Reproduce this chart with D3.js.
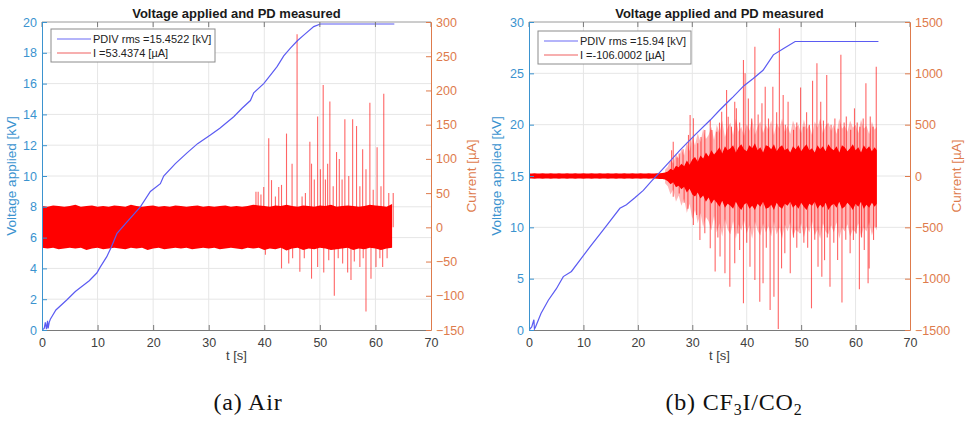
<!DOCTYPE html>
<html>
<head>
<meta charset="utf-8">
<script src="https://cdn.jsdelivr.net/npm/d3@7"></script>
<style>
  html, body { margin: 0; padding: 0; background: #fff; }
  svg { display: block; }
</style>
</head>
<body>
<svg id="chart" width="969" height="421"></svg>
<script>
// ---------- (a) Air ----------
const airVoltage = [
  [0,0],[0.4,0.1],[0.6,0.5],[0.8,0.05],[1.0,0.6],[1.1,0.1],[1.3,0.5],[1.5,0.7],[2.5,1.3],[4.45,1.95],
  [6,2.5],[7.45,2.9],[8.5,3.2],[9.86,3.7],[10.5,4.1],[11.66,4.76],[12.5,5.4],[13.5,6.28],[15.5,7.1],
  [17.7,8.0],[19.5,9.0],[21.3,9.5],[21.9,10.0],[24,10.8],[26.1,11.5],[28,12.1],[30.3,12.66],[32,13.1],
  [34.5,13.85],[36,14.4],[37.5,14.9],[38.1,15.4],[39.9,16.0],[41,16.5],[42.3,17.1],[43.5,17.8],
  [44.7,18.3],[46,18.8],[47.1,19.15],[48.9,19.7],[50.1,19.87],[63.4,19.87]
];
// dense noise band of the current, upper / lower edge each second (µA)
const airBandHi = [31,30,32,31,30,31,33,30,31,32,30,31,30,32,31,30,33,31,30,31,32,30,31,30,32,31,
  30,31,32,30,31,30,31,32,30,31,30,31,33,32,31,30,32,31,33,31,30,32,31,30,32,31,33,30,31,32,31,30,31,33,32,31,30,34];
const airBandLo = [-30,-31,-30,-32,-31,-30,-31,-30,-33,-31,-30,-32,-31,-30,-31,-32,-30,-31,-30,-33,-31,-30,
  -32,-31,-30,-31,-30,-32,-31,-30,-31,-30,-32,-31,-30,-31,-32,-30,-31,-30,-33,-31,-32,-30,-34,-31,-30,-33,
  -31,-32,-30,-31,-33,-32,-31,-30,-33,-31,-32,-30,-31,-33,-31,-30];
const airBandEnd = 63.3;
const airSpikesUp = [
  [38.5,52],[38.9,52],[39.4,48],[39.9,59],[40.8,130],[41.3,69],[42.0,45],[42.6,59],[43.1,62],[44.0,137],
  [45.0,93],[45.9,282],[46.8,45],[47.4,50],[48.2,125],[48.5,93],[49.0,70],[49.6,162],[50.1,85],[50.6,208],
  [51.0,70],[51.4,93],[51.8,184],[52.4,60],[53.0,110],[53.5,100],[54.0,70],[54.5,158],[55.2,75],[55.9,158],
  [56.6,148],[57.2,60],[57.7,114],[58.3,85],[59.0,182],[59.6,55],[60.3,117],[61.0,60],[61.5,195],[62.4,50],[63.2,50]
];
const airSpikesDown = [
  [40.2,-40],[43.1,-60],[44.4,-53],[45.1,-45],[46.4,-65],[47.2,-45],[48.5,-75],[49.6,-58],[50.7,-66],
  [51.6,-48],[52.6,-100],[53.3,-45],[54.1,-53],[55.0,-66],[55.6,-77],[56.2,-50],[57.2,-58],[57.8,-45],
  [58.3,-123],[59.2,-75],[60.1,-58],[60.8,-45],[61.3,-58],[62.1,-45]
];

// ---------- (b) CF3I/CO2 ----------
const gasVoltage = [
  [0,0],[0.5,0.3],[0.9,1.0],[1.0,0.1],[1.2,0.3],[2.2,1.6],[3.55,2.9],[5,4.0],[6.3,5.2],[7.8,5.7],
  [9.5,6.9],[11.2,8.1],[14,10.0],[16.7,11.85],[17.9,12.2],[19.5,12.9],[21.0,13.6],[22.5,14.5],[24.1,15.4],
  [26,16.5],[27.7,17.5],[30.5,19.0],[33.3,20.45],[35,21.4],[36.9,22.4],[37.5,22.7],[39.5,23.8],[41.2,24.5],
  [43.0,25.3],[44.9,26.8],[46.7,27.4],[48.9,28.1],[64.2,28.1]
];
// solid core of the current trace, every half second from t = 0 (µA)
const gasCoreHi = [
  25,24,26,25,24,26,25,24,26,25, 24,26,25,24,26,25,24,26,25,24, 26,25,24,26,25,24,26,25,24,26,
  25,24,26,25,24,26,25,24,26,25, 24,26,25,24,26,25,24,26,28,30,
  35,45,70,55,100,85,120,95,150,110, 160,185,140,200,170,230,190,250,210,240,
  280,220,290,250,270,300,230,280,310,260, 240,300,270,320,250,280,230,300,290,260,
  310,240,280,300,250,270,230,290,260,300, 240,280,310,250,270,230,300,260,290,240,
  310,270,250,290,230,300,280,240,270,310, 250,280,230,300,260,290,240,280,250
];
const gasCoreLo = [
  -25,-24,-26,-25,-24,-26,-25,-24,-26,-25, -24,-26,-25,-24,-26,-25,-24,-26,-25,-24, -26,-25,-24,-26,-25,-24,-26,-25,-24,-26,
  -25,-24,-26,-25,-24,-26,-25,-24,-26,-25, -24,-26,-25,-24,-26,-25,-24,-26,-28,-30,
  -35,-50,-80,-60,-110,-95,-130,-105,-160,-125, -180,-200,-160,-220,-190,-250,-210,-270,-230,-260,
  -300,-240,-310,-270,-290,-320,-250,-300,-330,-280, -260,-320,-290,-330,-270,-300,-250,-320,-310,-280,
  -330,-260,-300,-320,-270,-290,-250,-310,-280,-320, -260,-300,-330,-270,-290,-250,-320,-280,-310,-260,
  -330,-290,-270,-310,-250,-320,-300,-260,-290,-330, -270,-300,-250,-320,-280,-310,-260,-300,-270
];
// lighter fringe of overlapping oscillations, every half second from t = 25 (µA)
const gasFringeHi = [
  60,90,160,120,220,170,260,200,330,240, 380,300,420,330,460,360,400,480,350,500,
  420,540,380,470,520,400,560,430,480,390, 510,440,560,400,480,530,420,500,450,540,
  400,520,460,560,430,490,410,540,470,500, 420,550,450,500,400,530,470,560,420,490,
  520,440,500,410,560,460,490,430,540,470, 500,420,550,460,490,410,530,450,480
];
const gasFringeLo = [
  -70,-100,-180,-130,-250,-190,-290,-220,-360,-270, -420,-330,-460,-360,-500,-400,-440,-530,-390,-550,
  -460,-590,-420,-520,-570,-440,-610,-470,-530,-430, -560,-480,-610,-440,-530,-580,-460,-550,-490,-590,
  -440,-570,-500,-610,-470,-540,-450,-590,-520,-550, -460,-600,-490,-550,-440,-580,-520,-610,-460,-540,
  -570,-480,-550,-450,-610,-500,-540,-470,-590,-520, -550,-460,-600,-500,-540,-450,-580,-490,-530
];
const gasFringeStart = 25;
const gasBandEnd = 63.9;
const gasSpikesUp = [
  [26.2,250],[26.5,334],[27.2,180],[27.6,220],[28.3,260],[29.3,400],[29.6,594],[30.2,562],[31.0,318],
  [31.6,380],[32.3,448],[33.3,545],[33.6,448],[34.5,432],[35.0,520],[35.4,626],[36.3,838],[36.6,578],
  [37.2,480],[37.8,724],[38.1,660],[38.7,520],[39.4,1130],[39.7,1000],[40.3,756],[40.9,560],[41.5,1260],
  [42.1,600],[42.8,708],[43.4,870],[44.0,560],[44.8,870],[45.5,620],[46.0,1438],[46.7,789],[47.1,500],
  [47.6,724],[48.6,450],[49.2,520],[49.9,862],[50.5,480],[51.0,622],[51.5,500],[52.1,927],[52.9,1097],
  [53.6,724],[54.1,540],[54.7,984],[55.5,500],[56.2,560],[56.8,460],[57.3,1180],[57.9,520],[58.3,580],
  [59.1,450],[59.8,659],[60.3,520],[60.8,480],[61.4,560],[61.9,903],[62.7,580],[63.2,480],[63.8,1065]
];
const gasSpikesDown = [
  [26.5,-201],[27.6,-170],[28.5,-260],[29.2,-320],[30.2,-477],[30.8,-380],[31.4,-623],[32.3,-558],
  [33.3,-704],[34.2,-930],[34.7,-600],[35.1,-785],[36.0,-948],[36.9,-1078],[37.8,-850],[38.4,-560],
  [38.7,-720],[39.4,-1240],[40.0,-650],[40.6,-883],[41.5,-1013],[42.4,-1224],[43.0,-1045],[43.6,-700],
  [44.3,-1305],[45.0,-1175],[45.8,-1490],[46.4,-900],[47.0,-753],[48.0,-948],[48.6,-600],[49.2,-700],
  [49.8,-558],[50.5,-650],[51.2,-700],[51.9,-1289],[52.5,-620],[53.1,-883],[53.8,-981],[54.3,-820],
  [54.8,-600],[55.3,-1078],[56.0,-650],[56.7,-818],[57.5,-1232],[58.2,-620],[59.0,-753],[59.6,-623],
  [60.1,-560],[60.7,-1104],[61.1,-600],[61.6,-720],[62.3,-1045],[62.5,-900],[63.3,-623],[63.8,-500]
];

// ---------- ticks and labels ----------
const timeTicks = [0,10,20,30,40,50,60,70];
const airVoltTicks = [0,2,4,6,8,10,12,14,16,18,20];
const airCurrTicks = [-150,-100,-50,0,50,100,150,200,250,300];
const gasVoltTicks = [0,5,10,15,20,25,30];
const gasCurrTicks = [-1500,-1000,-500,0,500,1000,1500];
const chartTitle = "Voltage applied and PD measured";
const xLabel = "t [s]";
const voltLabel = "Voltage applied [kV]";
const currLabel = "Current [\u00B5A]";

const svg = d3.select("#chart");
const FONT = '"Liberation Sans", Arial, sans-serif';
const BLUE_AX = "#3b93cf", ORANGE_AX = "#de7b4c", GRID = "#e6e6e6";
const fmt = d3.format("d");

function drawPanel(p) {
  const x = d3.scaleLinear().domain([0, 70]).range([p.left, p.right]);
  const yV = d3.scaleLinear().domain(p.voltDomain).range([p.bottom, p.top]);
  const yC = d3.scaleLinear().domain(p.currDomain).range([p.bottom, p.top]);
  const g = svg.append("g");

  // grid
  g.append("g").selectAll("line").data(p.timeTicks.slice(1, -1)).join("line")
    .attr("x1", d => x(d)).attr("x2", d => x(d)).attr("y1", p.top).attr("y2", p.bottom)
    .attr("stroke", GRID).attr("stroke-width", 1);
  g.append("g").selectAll("line").data(p.voltTicks.slice(1, -1)).join("line")
    .attr("x1", p.left).attr("x2", p.right).attr("y1", d => yV(d)).attr("y2", d => yV(d))
    .attr("stroke", GRID).attr("stroke-width", 1);

  const clip = "clip" + p.id;
  svg.append("clipPath").attr("id", clip).append("rect")
    .attr("x", p.left).attr("y", p.top - 1).attr("width", p.right - p.left).attr("height", p.bottom - p.top + 2);
  const plot = g.append("g").attr("clip-path", `url(#${clip})`);

  // current trace: fringe, solid core, individual discharge spikes
  const step = p.bandStep;
  const band = d3.area().x(d => x(d[0])).y0(d => yC(d[2])).y1(d => yC(d[1]));
  if (p.fringeHi) {
    plot.append("path")
      .datum(p.fringeHi.map((v, i) => [Math.min(p.fringeStart + i * step, p.bandEnd), v, p.fringeLo[i]]))
      .attr("d", band).attr("fill", "#ff0000").attr("opacity", 0.28);
  }
  plot.append("path")
    .datum(p.bandHi.map((v, i) => [Math.min(i * step, p.bandEnd), v, p.bandLo[i]]))
    .attr("d", band).attr("fill", "#ff0000");
  plot.append("g").selectAll("line").data(p.spikesUp.concat(p.spikesDown)).join("line")
    .attr("x1", d => x(d[0])).attr("x2", d => x(d[0]))
    .attr("y1", yC(0)).attr("y2", d => yC(d[1]))
    .attr("stroke", "#ff0000").attr("stroke-width", 1.1).attr("opacity", 0.6);

  // voltage ramp
  plot.append("path").datum(p.voltage)
    .attr("d", d3.line().x(d => x(d[0])).y(d => yV(d[1])))
    .attr("fill", "none").attr("stroke", "#5b5bf2").attr("stroke-width", 1.2);

  // frame top line
  g.append("line").attr("x1", p.left).attr("x2", p.right).attr("y1", p.top).attr("y2", p.top)
    .attr("stroke", "#9a9a9a");

  // bottom axis
  const ax = g.append("g").attr("transform", `translate(0,${p.bottom})`)
    .call(d3.axisBottom(x).tickValues(p.timeTicks).tickSize(-5).tickPadding(8).tickSizeOuter(0));
  ax.select(".domain").attr("stroke", "#7a7a7a");
  ax.selectAll(".tick line").attr("stroke", "#7a7a7a");
  ax.selectAll(".tick text").attr("fill", "#404040").attr("font-size", 12.5).attr("font-family", FONT);
  // top ticks
  g.append("g").selectAll("line").data(p.timeTicks).join("line")
    .attr("x1", d => x(d)).attr("x2", d => x(d)).attr("y1", p.top).attr("y2", p.top + 5)
    .attr("stroke", "#7a7a7a");

  // left axis
  const ay = g.append("g").attr("transform", `translate(${p.left},0)`)
    .call(d3.axisLeft(yV).tickValues(p.voltTicks).tickFormat(fmt).tickSize(-5).tickPadding(5).tickSizeOuter(0));
  ay.select(".domain").attr("stroke", BLUE_AX);
  ay.selectAll(".tick line").attr("stroke", BLUE_AX);
  ay.selectAll(".tick text").attr("fill", BLUE_AX).attr("font-size", 12.5).attr("font-family", FONT);

  // right axis
  const ar = g.append("g").attr("transform", `translate(${p.right},0)`)
    .call(d3.axisRight(yC).tickValues(p.currTicks).tickFormat(fmt).tickSize(-5).tickPadding(5).tickSizeOuter(0));
  ar.select(".domain").attr("stroke", ORANGE_AX);
  ar.selectAll(".tick line").attr("stroke", ORANGE_AX);
  ar.selectAll(".tick text").attr("fill", ORANGE_AX).attr("font-size", 12.5).attr("font-family", FONT);

  // title and axis labels
  const cx = (p.left + p.right) / 2, cy = (p.top + p.bottom) / 2;
  g.append("text").attr("x", cx).attr("y", 18).attr("text-anchor", "middle")
    .attr("font-family", FONT).attr("font-weight", "bold").attr("font-size", 13).attr("fill", "#1a1a1a")
    .text(chartTitle);
  g.append("text").attr("x", cx).attr("y", p.bottom + 30).attr("text-anchor", "middle")
    .attr("font-family", FONT).attr("font-size", 13).attr("fill", "#404040").text(xLabel);
  g.append("text").attr("transform", `translate(${p.left - p.voltLabelDx},${cy}) rotate(-90)`)
    .attr("text-anchor", "middle").attr("font-family", FONT).attr("font-size", 13.5).attr("fill", BLUE_AX)
    .text(voltLabel);
  g.append("text").attr("transform", `translate(${p.right + p.currLabelDx},${cy}) rotate(-90)`)
    .attr("text-anchor", "middle").attr("font-family", FONT).attr("font-size", 13.5).attr("fill", ORANGE_AX)
    .text(currLabel);

  // legend
  const lg = g.append("g").attr("transform", `translate(${p.legendX},${p.legendY})`);
  lg.append("rect").attr("width", p.legendW).attr("height", 33).attr("fill", "#fff")
    .attr("stroke", "#8c8c8c").attr("stroke-width", 1);
  const rows = [
    { c: "#6b6bf5", t: p.legendV },
    { c: "#f06060", t: p.legendI }
  ];
  rows.forEach((r, i) => {
    const yy = 10 + i * 14;
    lg.append("line").attr("x1", 6).attr("x2", 40).attr("y1", yy).attr("y2", yy)
      .attr("stroke", r.c).attr("stroke-width", 1.2);
    lg.append("text").attr("x", 42).attr("y", yy + 4).attr("font-family", FONT).attr("font-size", 11)
      .attr("fill", "#222").text(r.t);
  });
}

drawPanel({
  id: "a", left: 42, right: 431, top: 22, bottom: 330,
  voltDomain: [0, 20], currDomain: [-150, 300],
  timeTicks, voltTicks: airVoltTicks, currTicks: airCurrTicks,
  voltage: airVoltage, bandHi: airBandHi, bandLo: airBandLo, bandEnd: airBandEnd, bandStep: 1,
  spikesUp: airSpikesUp, spikesDown: airSpikesDown,
  legendX: 51, legendY: 29, legendW: 164,
  legendV: "PDIV rms =15.4522 [kV]", legendI: "I =53.4374 [\u00B5A]",
  voltLabelDx: 26, currLabelDx: 45
});

drawPanel({
  id: "b", left: 529, right: 910, top: 22, bottom: 330,
  voltDomain: [0, 30], currDomain: [-1500, 1500],
  timeTicks, voltTicks: gasVoltTicks, currTicks: gasCurrTicks,
  voltage: gasVoltage, bandHi: gasCoreHi, bandLo: gasCoreLo, bandEnd: gasBandEnd, bandStep: 0.5,
  fringeHi: gasFringeHi, fringeLo: gasFringeLo, fringeStart: gasFringeStart,
  spikesUp: gasSpikesUp, spikesDown: gasSpikesDown,
  legendX: 538, legendY: 31, legendW: 153,
  legendV: "PDIV rms =15.94 [kV]", legendI: "I =-106.0002 [\u00B5A]",
  voltLabelDx: 28, currLabelDx: 51
});

// sub-figure captions
const capFont = '"Liberation Serif", "DejaVu Serif", serif';
svg.append("text").attr("x", 248).attr("y", 410).attr("text-anchor", "middle")
  .attr("font-family", capFont).attr("font-size", 24).attr("letter-spacing", 0.8).attr("fill", "#111")
  .text("(a) Air");
const capB = svg.append("text").attr("x", 734).attr("y", 410).attr("text-anchor", "middle")
  .attr("font-family", capFont).attr("font-size", 24).attr("letter-spacing", 0.8).attr("fill", "#111");
capB.append("tspan").text("(b) CF");
capB.append("tspan").attr("font-size", 16).attr("dy", 5).text("3");
capB.append("tspan").attr("dy", -5).text("I/CO");
capB.append("tspan").attr("font-size", 16).attr("dy", 5).text("2");
</script>
</body>
</html>
